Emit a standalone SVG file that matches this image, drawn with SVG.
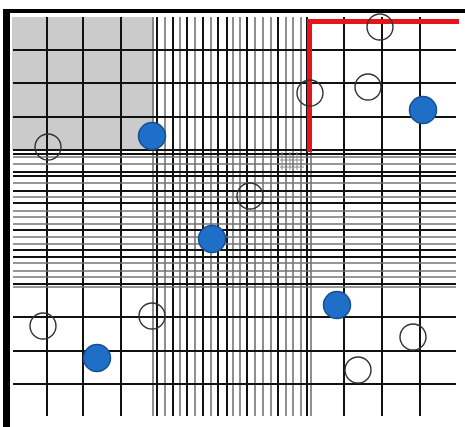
<svg xmlns="http://www.w3.org/2000/svg" width="465" height="427" viewBox="0 0 465 427">
<style>
.bk{stroke:#111;stroke-width:2;fill:none}
.gy{stroke:#737373;stroke-width:1.6;fill:none}
.fine{stroke:#888;stroke-width:1;fill:none}
.open{fill:none;stroke:#333;stroke-width:1.4}
.dot{fill:#1f6fc8;stroke:#16518f;stroke-width:1.5}
</style>
<rect x="0" y="0" width="465" height="427" fill="#fff"/>
<rect x="12" y="17" width="142" height="133" fill="#cbcbcb"/>
<g id="vertical-lines">
<g class="gy">
<line x1="153" y1="17" x2="153" y2="416"/>
<line x1="165" y1="17" x2="165" y2="416"/>
<line x1="180" y1="17" x2="180" y2="416"/>
<line x1="195" y1="17" x2="195" y2="416"/>
<line x1="211" y1="17" x2="211" y2="416"/>
<line x1="233" y1="17" x2="233" y2="416"/>
<line x1="240" y1="17" x2="240" y2="416"/>
<line x1="255" y1="17" x2="255" y2="416"/>
<line x1="263" y1="17" x2="263" y2="416"/>
<line x1="271" y1="17" x2="271" y2="416"/>
<line x1="286" y1="17" x2="286" y2="416"/>
<line x1="293" y1="17" x2="293" y2="416"/>
<line x1="301" y1="17" x2="301" y2="416"/>
<line x1="311" y1="150" x2="311" y2="416"/>
</g>
<g class="bk">
<line x1="47" y1="17" x2="47" y2="416"/>
<line x1="83" y1="17" x2="83" y2="416"/>
<line x1="121" y1="17" x2="121" y2="416"/>
<line x1="157" y1="17" x2="157" y2="416"/>
<line x1="173" y1="17" x2="173" y2="416"/>
<line x1="187" y1="17" x2="187" y2="416"/>
<line x1="203" y1="17" x2="203" y2="416"/>
<line x1="218" y1="17" x2="218" y2="416"/>
<line x1="227" y1="17" x2="227" y2="416"/>
<line x1="247" y1="17" x2="247" y2="416"/>
<line x1="278" y1="17" x2="278" y2="416"/>
<line x1="307" y1="17" x2="307" y2="416"/>
<line x1="344" y1="17" x2="344" y2="416"/>
<line x1="382" y1="17" x2="382" y2="416"/>
<line x1="420" y1="17" x2="420" y2="416"/>
</g>
</g>
<g id="horizontal-lines">
<g class="gy">
<line x1="13" y1="157" x2="456" y2="157"/>
<line x1="13" y1="164" x2="456" y2="164"/>
<line x1="13" y1="183" x2="456" y2="183"/>
<line x1="13" y1="197" x2="456" y2="197"/>
<line x1="13" y1="211" x2="456" y2="211"/>
<line x1="13" y1="217" x2="456" y2="217"/>
<line x1="13" y1="224" x2="456" y2="224"/>
<line x1="13" y1="237" x2="456" y2="237"/>
<line x1="13" y1="244" x2="456" y2="244"/>
<line x1="13" y1="263" x2="456" y2="263"/>
<line x1="13" y1="271" x2="456" y2="271"/>
<line x1="13" y1="277" x2="456" y2="277"/>
<line x1="13" y1="287" x2="456" y2="287"/>
</g>
<g class="bk">
<line x1="13" y1="50" x2="456" y2="50"/>
<line x1="13" y1="83" x2="456" y2="83"/>
<line x1="13" y1="117" x2="456" y2="117"/>
<line x1="13" y1="150" x2="456" y2="150"/>
<line x1="13" y1="154" x2="456" y2="154"/>
<line x1="13" y1="172" x2="456" y2="172"/>
<line x1="13" y1="176" x2="456" y2="176"/>
<line x1="13" y1="191" x2="456" y2="191"/>
<line x1="13" y1="203" x2="456" y2="203"/>
<line x1="13" y1="230" x2="456" y2="230"/>
<line x1="13" y1="250" x2="456" y2="250"/>
<line x1="13" y1="257" x2="456" y2="257"/>
<line x1="13" y1="284" x2="456" y2="284"/>
<line x1="13" y1="317" x2="456" y2="317"/>
<line x1="13" y1="351" x2="456" y2="351"/>
<line x1="13" y1="384" x2="456" y2="384"/>
</g>
</g>
<g id="fine-patch" class="fine">
<line x1="282" y1="152" x2="282" y2="170"/>
<line x1="290" y1="152" x2="290" y2="170"/>
<line x1="297" y1="152" x2="297" y2="170"/>
<line x1="280" y1="160" x2="304" y2="160"/>
<line x1="280" y1="167" x2="304" y2="167"/>
</g>
<g id="red-boundary">
<polyline points="309.5,152 309.5,21.5 459,21.5" fill="none" stroke="#e8141b" stroke-width="5"/>
</g>
<g id="open-circles" class="open">
<circle cx="48" cy="147" r="13"/>
<circle cx="310" cy="93" r="13"/>
<circle cx="380" cy="27" r="13"/>
<circle cx="368" cy="87" r="13"/>
<circle cx="250" cy="196" r="13"/>
<circle cx="43" cy="326" r="13"/>
<circle cx="152" cy="316" r="13"/>
<circle cx="413" cy="337" r="13"/>
<circle cx="358" cy="370" r="13"/>
</g>
<g id="filled-circles" class="dot">
<circle cx="152" cy="136" r="13.5"/>
<circle cx="423" cy="110" r="13.5"/>
<circle cx="212" cy="239" r="13.5"/>
<circle cx="97" cy="358" r="13.5"/>
<circle cx="337" cy="305" r="13.5"/>
</g>
<g id="frame" fill="#000">
<rect x="3" y="9" width="7" height="418"/>
<rect x="3" y="9" width="462" height="4"/>
</g>
</svg>
